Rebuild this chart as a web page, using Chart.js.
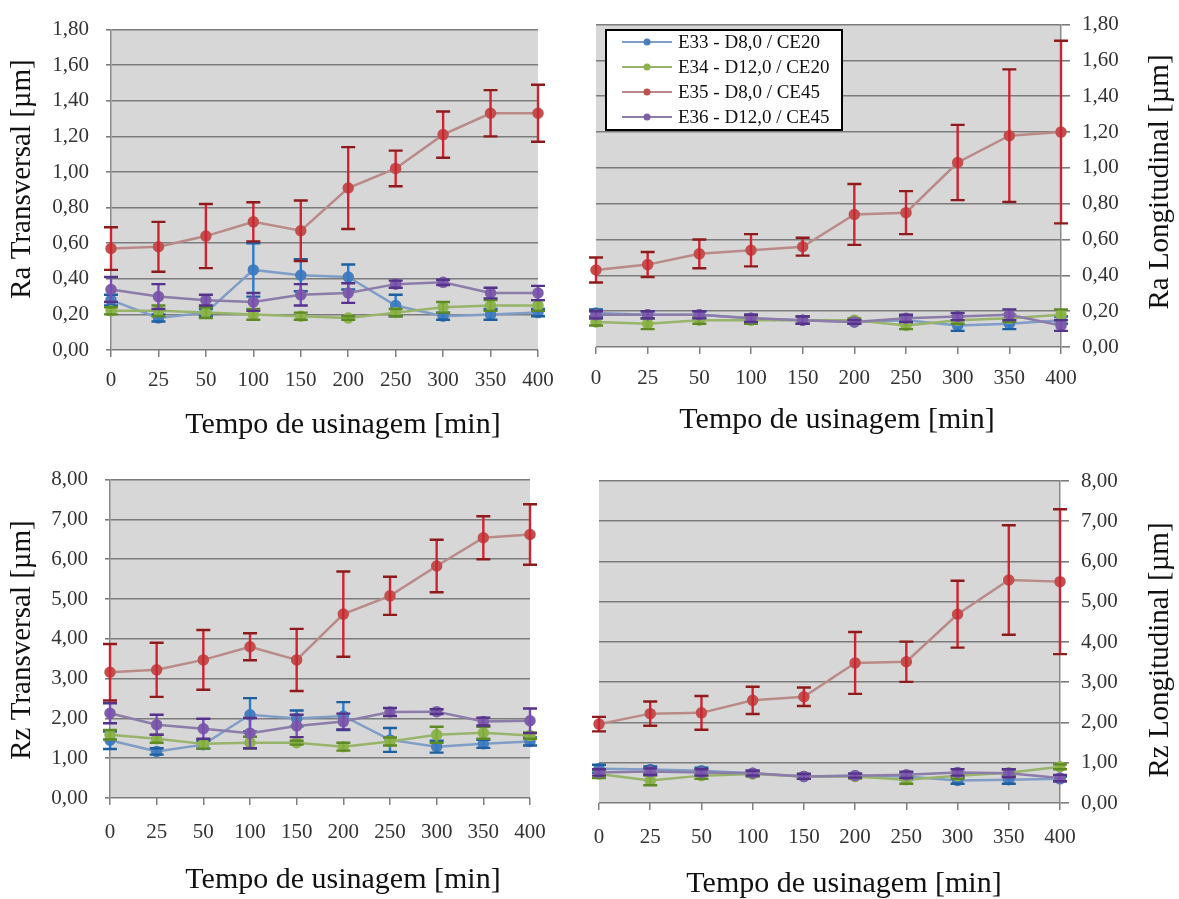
<!DOCTYPE html>
<html>
<head>
<meta charset="utf-8">
<title>Rugosidade Ra / Rz</title>
<script src="https://cdn.jsdelivr.net/npm/chart.js@4/dist/chart.umd.min.js"></script>
<style>
  html, body { margin: 0; padding: 0; background: #fff; }
  #wrap { position: relative; width: 1179px; height: 899px; background: #fff; }
  #wrap canvas { position: absolute; }
</style>
</head>
<body>
<div id="wrap">
  <canvas id="raT" width="575" height="450" style="left:0;top:0;width:575px;height:450px"></canvas>
  <canvas id="raL" width="604" height="450" style="left:575px;top:0;width:604px;height:450px"></canvas>
  <canvas id="rzT" width="575" height="449" style="left:0;top:450px;width:575px;height:449px"></canvas>
  <canvas id="rzL" width="604" height="449" style="left:575px;top:450px;width:604px;height:449px"></canvas>
</div>
<script>
// Machining time (min)
const tempos = ['0', '25', '50', '100', '150', '200', '250', '300', '350', '400'];
const seriesNames = ['E33 - D8,0 / CE20', 'E34 - D12,0 / CE20', 'E35 - D8,0 / CE45', 'E36 - D12,0 / CE45'];

// Ra transversal [µm] – means and standard deviations
const raT_E33 = [0.28, 0.18, 0.21, 0.45, 0.42, 0.41, 0.25, 0.19, 0.20, 0.21];
const raT_E33_sd = [0.03, 0.02, 0.02, 0.15, 0.09, 0.07, 0.06, 0.02, 0.03, 0.02];
const raT_E34 = [0.22, 0.22, 0.21, 0.20, 0.19, 0.18, 0.21, 0.24, 0.25, 0.25];
const raT_E34_sd = [0.02, 0.03, 0.03, 0.03, 0.02, 0.01, 0.02, 0.03, 0.03, 0.03];
const raT_E35 = [0.57, 0.58, 0.64, 0.72, 0.67, 0.91, 1.02, 1.21, 1.33, 1.33];
const raT_E35_sd = [0.12, 0.14, 0.18, 0.11, 0.17, 0.23, 0.10, 0.13, 0.13, 0.16];
const raT_E36 = [0.34, 0.30, 0.28, 0.27, 0.31, 0.32, 0.37, 0.38, 0.32, 0.32];
const raT_E36_sd = [0.07, 0.07, 0.03, 0.05, 0.06, 0.055, 0.02, 0.015, 0.03, 0.04];

// Ra longitudinal [µm]
const raL_E33 = [0.19, 0.18, 0.18, 0.16, 0.15, 0.14, 0.15, 0.12, 0.13, 0.15];
const raL_E33_sd = [0.02, 0.02, 0.02, 0.02, 0.02, 0.01, 0.02, 0.03, 0.03, 0.02];
const raL_E34 = [0.14, 0.13, 0.15, 0.15, 0.15, 0.15, 0.12, 0.15, 0.16, 0.18];
const raL_E34_sd = [0.02, 0.03, 0.02, 0.02, 0.02, 0.01, 0.02, 0.02, 0.02, 0.03];
const raL_E35 = [0.43, 0.46, 0.52, 0.54, 0.56, 0.74, 0.75, 1.03, 1.18, 1.20];
const raL_E35_sd = [0.07, 0.07, 0.08, 0.09, 0.05, 0.17, 0.12, 0.21, 0.37, 0.51];
const raL_E36 = [0.18, 0.18, 0.18, 0.16, 0.15, 0.14, 0.16, 0.17, 0.18, 0.12];
const raL_E36_sd = [0.02, 0.02, 0.02, 0.02, 0.02, 0.01, 0.02, 0.02, 0.03, 0.03];

// Rz transversal [µm]
const rzT_E33 = [1.45, 1.17, 1.34, 2.09, 2.00, 2.06, 1.46, 1.29, 1.36, 1.42];
const rzT_E33_sd = [0.22, 0.08, 0.10, 0.42, 0.20, 0.35, 0.30, 0.15, 0.10, 0.10];
const rzT_E34 = [1.59, 1.49, 1.36, 1.39, 1.39, 1.29, 1.42, 1.59, 1.64, 1.57];
const rzT_E34_sd = [0.12, 0.10, 0.12, 0.15, 0.05, 0.10, 0.10, 0.20, 0.15, 0.08];
const rzT_E35 = [3.16, 3.22, 3.47, 3.80, 3.47, 4.62, 5.08, 5.83, 6.54, 6.62];
const rzT_E35_sd = [0.71, 0.68, 0.75, 0.34, 0.78, 1.07, 0.48, 0.66, 0.54, 0.76];
const rzT_E36 = [2.13, 1.84, 1.74, 1.63, 1.81, 1.92, 2.16, 2.17, 1.92, 1.94];
const rzT_E36_sd = [0.25, 0.25, 0.25, 0.38, 0.28, 0.20, 0.10, 0.06, 0.10, 0.31];

// Rz longitudinal [µm]
const rzL_E33 = [0.85, 0.83, 0.80, 0.74, 0.66, 0.68, 0.66, 0.56, 0.58, 0.60];
const rzL_E33_sd = [0.10, 0.08, 0.08, 0.06, 0.06, 0.05, 0.08, 0.08, 0.10, 0.06];
const rzL_E34 = [0.72, 0.56, 0.68, 0.72, 0.66, 0.66, 0.58, 0.68, 0.75, 0.90];
const rzL_E34_sd = [0.10, 0.12, 0.08, 0.06, 0.06, 0.05, 0.10, 0.08, 0.08, 0.06];
const rzL_E35 = [1.96, 2.22, 2.24, 2.55, 2.64, 3.48, 3.51, 4.69, 5.54, 5.50];
const rzL_E35_sd = [0.18, 0.30, 0.42, 0.34, 0.23, 0.77, 0.50, 0.83, 1.36, 1.80];
const rzL_E36 = [0.76, 0.78, 0.76, 0.74, 0.66, 0.68, 0.70, 0.76, 0.74, 0.62];
const rzL_E36_sd = [0.08, 0.08, 0.08, 0.06, 0.06, 0.05, 0.08, 0.08, 0.10, 0.08];

// Y tick values
const raTicks = { min: 0, max: 1.8, step: 0.2 };
const rzTicks = { min: 0, max: 8, step: 1 };

// Series styling: marker, line, error bar, error cap
const styles = [
  { marker: '#4A7EBB', line: '#7F9DC6', err: '#2B7BD0', cap: '#1F5FA0', order: 4 },
  { marker: '#8DB34E', line: '#98B46A', err: '#7FAE36', cap: '#5E8A25', order: 3 },
  { marker: '#C0504D', line: '#B98A88', err: '#D02232', cap: '#8E1B1B', order: 2 },
  { marker: '#7C5FA6', line: '#8C7CAA', err: '#7B4CB8', cap: '#55338A', order: 1 }
];

const SERIF = '"Liberation Serif", "Times New Roman", serif';
Chart.defaults.font.family = SERIF;
Chart.defaults.color = '#333';

// Gray plot area
const plotBackground = {
  id: 'plotBackground',
  beforeDraw(chart) {
    const { ctx, chartArea: a } = chart;
    ctx.save();
    ctx.fillStyle = '#D7D7D7';
    ctx.fillRect(a.left, a.top, a.right - a.left, a.bottom - a.top);
    ctx.restore();
  }
};

// Vertical ±SD bars with caps, drawn right after each series
const errorBars = {
  id: 'errorBars',
  afterDatasetDraw(chart, args) {
    const ds = chart.data.datasets[args.index];
    if (!ds.errors) return;
    const ctx = chart.ctx, ys = chart.scales.y;
    ctx.save();
    ctx.lineWidth = 2.4;
    args.meta.data.forEach((pt, i) => {
      const v = ds.data[i], e = ds.errors[i];
      const top = ys.getPixelForValue(v + e);
      const bot = ys.getPixelForValue(v - e);
      ctx.strokeStyle = ds.errorColor;
      ctx.beginPath();
      ctx.moveTo(pt.x, top); ctx.lineTo(pt.x, bot);
      ctx.stroke();
      ctx.strokeStyle = ds.capColor;
      ctx.beginPath();
      ctx.moveTo(pt.x - 7, top); ctx.lineTo(pt.x + 7, top);
      ctx.moveTo(pt.x - 7, bot); ctx.lineTo(pt.x + 7, bot);
      ctx.stroke();
    });
    ctx.restore();
  }
};

// Axis titles placed freely on the canvas
const axisTitles = {
  id: 'axisTitles',
  afterDraw(chart, args, opts) {
    if (!opts || !opts.items) return;
    const ctx = chart.ctx;
    ctx.save();
    ctx.fillStyle = '#111';
    ctx.textAlign = 'center';
    ctx.textBaseline = 'middle';
    opts.items.forEach(t => {
      ctx.save();
      ctx.font = t.size + 'px ' + SERIF;
      ctx.translate(t.x, t.y);
      if (t.rot) ctx.rotate(t.rot);
      ctx.fillText(t.text, 0, 0);
      ctx.restore();
    });
    ctx.restore();
  }
};

// Framed legend inside the plot area
const boxLegend = {
  id: 'boxLegend',
  afterDraw(chart, args, o) {
    if (!o || !o.display) return;
    const ctx = chart.ctx;
    ctx.save();
    ctx.fillStyle = '#fff';
    ctx.fillRect(o.x, o.y, o.w, o.h);
    ctx.strokeStyle = '#000';
    ctx.lineWidth = 2;
    ctx.strokeRect(o.x, o.y, o.w, o.h);
    ctx.font = o.size + 'px ' + SERIF;
    ctx.textAlign = 'left';
    ctx.textBaseline = 'middle';
    chart.data.datasets.forEach((ds, i) => {
      const cy = o.y + o.first + i * o.row;
      ctx.strokeStyle = ds.borderColor;
      ctx.lineWidth = 2.2;
      ctx.beginPath();
      ctx.moveTo(o.x + 16, cy); ctx.lineTo(o.x + 66, cy);
      ctx.stroke();
      ctx.fillStyle = ds.pointBackgroundColor;
      ctx.beginPath();
      ctx.arc(o.x + 41, cy, 3.5, 0, Math.PI * 2);
      ctx.fill();
      ctx.fillStyle = '#111';
      ctx.fillText(ds.label, o.x + 72, cy + 1);
    });
    ctx.restore();
  }
};

function buildDatasets(values, sds) {
  return values.map((vals, i) => ({
    label: seriesNames[i],
    data: vals,
    errors: sds[i],
    errorColor: styles[i].err,
    capColor: styles[i].cap,
    borderColor: styles[i].line,
    backgroundColor: styles[i].marker,
    pointBackgroundColor: styles[i].marker,
    pointBorderColor: styles[i].marker,
    pointRadius: 4.5,
    pointHoverRadius: 4.5,
    borderWidth: 2.5,
    tension: 0,
    order: styles[i].order
  }));
}

function makePanel(id, p) {
  const side = p.side;
  new Chart(document.getElementById(id), {
    type: 'line',
    data: { labels: tempos, datasets: buildDatasets(p.values, p.sds) },
    plugins: [plotBackground, errorBars, axisTitles, boxLegend],
    options: {
      responsive: false,
      animation: false,
      events: [],
      layout: { padding: p.padding },
      plugins: {
        legend: { display: false },
        tooltip: { enabled: false },
        axisTitles: { items: p.titles },
        boxLegend: p.legend || { display: false }
      },
      scales: {
        x: {
          type: 'category',
          offset: false,
          ticks: { padding: p.xPad, color: '#333', font: { size: 21 }, maxRotation: 0, autoSkip: false },
          grid: { drawOnChartArea: false, drawTicks: true, tickLength: 7, color: '#808080', lineWidth: 1.5 },
          border: { display: false },
          afterFit: s => { s.height = p.xHeight; }
        },
        y: {
          position: side,
          min: p.ticks.min,
          max: p.ticks.max,
          ticks: {
            stepSize: p.ticks.step,
            padding: p.yPad,
            color: '#333',
            font: { size: 21 },
            callback: v => Number(v).toFixed(2).replace('.', ',')
          },
          grid: { color: '#7c7c7c', lineWidth: 1.6, tickLength: p.yTick, drawTicks: true },
          border: { display: true, color: '#8a8a8a', width: 1.5 },
          afterFit: s => { s.width = p.yWidth; }
        }
      }
    }
  });
}

const tempoTitle = 'Tempo de usinagem [min]';
const UP = -Math.PI / 2;
const XT = 30, YT = 29;

makePanel('raT', {
  side: 'left',
  values: [raT_E33, raT_E34, raT_E35, raT_E36],
  sds: [raT_E33_sd, raT_E34_sd, raT_E35_sd, raT_E36_sd],
  ticks: raTicks,
  padding: { left: 0, top: 24, right: 37, bottom: 0 },
  yWidth: 111, xHeight: 100, yPad: 17, yTick: 5, xPad: 11,
  titles: [
    { text: tempoTitle, x: 343, y: 425, size: XT },
    { text: 'Ra Transversal [µm]', x: 22, y: 179, rot: UP, size: YT }
  ]
});

makePanel('raL', {
  side: 'right',
  values: [raL_E33, raL_E34, raL_E35, raL_E36],
  sds: [raL_E33_sd, raL_E34_sd, raL_E35_sd, raL_E36_sd],
  ticks: raTicks,
  padding: { left: 21, top: 22, right: 0, bottom: 0 },
  yWidth: 118, xHeight: 103, yPad: 12, yTick: 9, xPad: 12,
  titles: [
    { text: tempoTitle, x: 262, y: 420, size: XT },
    { text: 'Ra Longitudinal [µm]', x: 585, y: 182, rot: UP, size: YT }
  ],
  legend: { display: true, x: 31, y: 30, w: 236, h: 100, first: 12, row: 25, size: 19 }
});

makePanel('rzT', {
  side: 'left',
  values: [rzT_E33, rzT_E34, rzT_E35, rzT_E36],
  sds: [rzT_E33_sd, rzT_E34_sd, rzT_E35_sd, rzT_E36_sd],
  ticks: rzTicks,
  padding: { left: 0, top: 29, right: 45, bottom: 0 },
  yWidth: 110, xHeight: 101, yPad: 17, yTick: 5, xPad: 15,
  titles: [
    { text: tempoTitle, x: 343, y: 430, size: XT },
    { text: 'Rz Transversal [µm]', x: 22, y: 190, rot: UP, size: YT }
  ]
});

makePanel('rzL', {
  side: 'right',
  values: [rzL_E33, rzL_E34, rzL_E35, rzL_E36],
  sds: [rzL_E33_sd, rzL_E34_sd, rzL_E35_sd, rzL_E36_sd],
  ticks: rzTicks,
  padding: { left: 24, top: 31, right: 0, bottom: 0 },
  yWidth: 119, xHeight: 96, yPad: 12, yTick: 9, xPad: 15,
  titles: [
    { text: tempoTitle, x: 269, y: 434, size: XT },
    { text: 'Rz Longitudinal [µm]', x: 585, y: 200, rot: UP, size: YT }
  ]
});
</script>
</body>
</html>
